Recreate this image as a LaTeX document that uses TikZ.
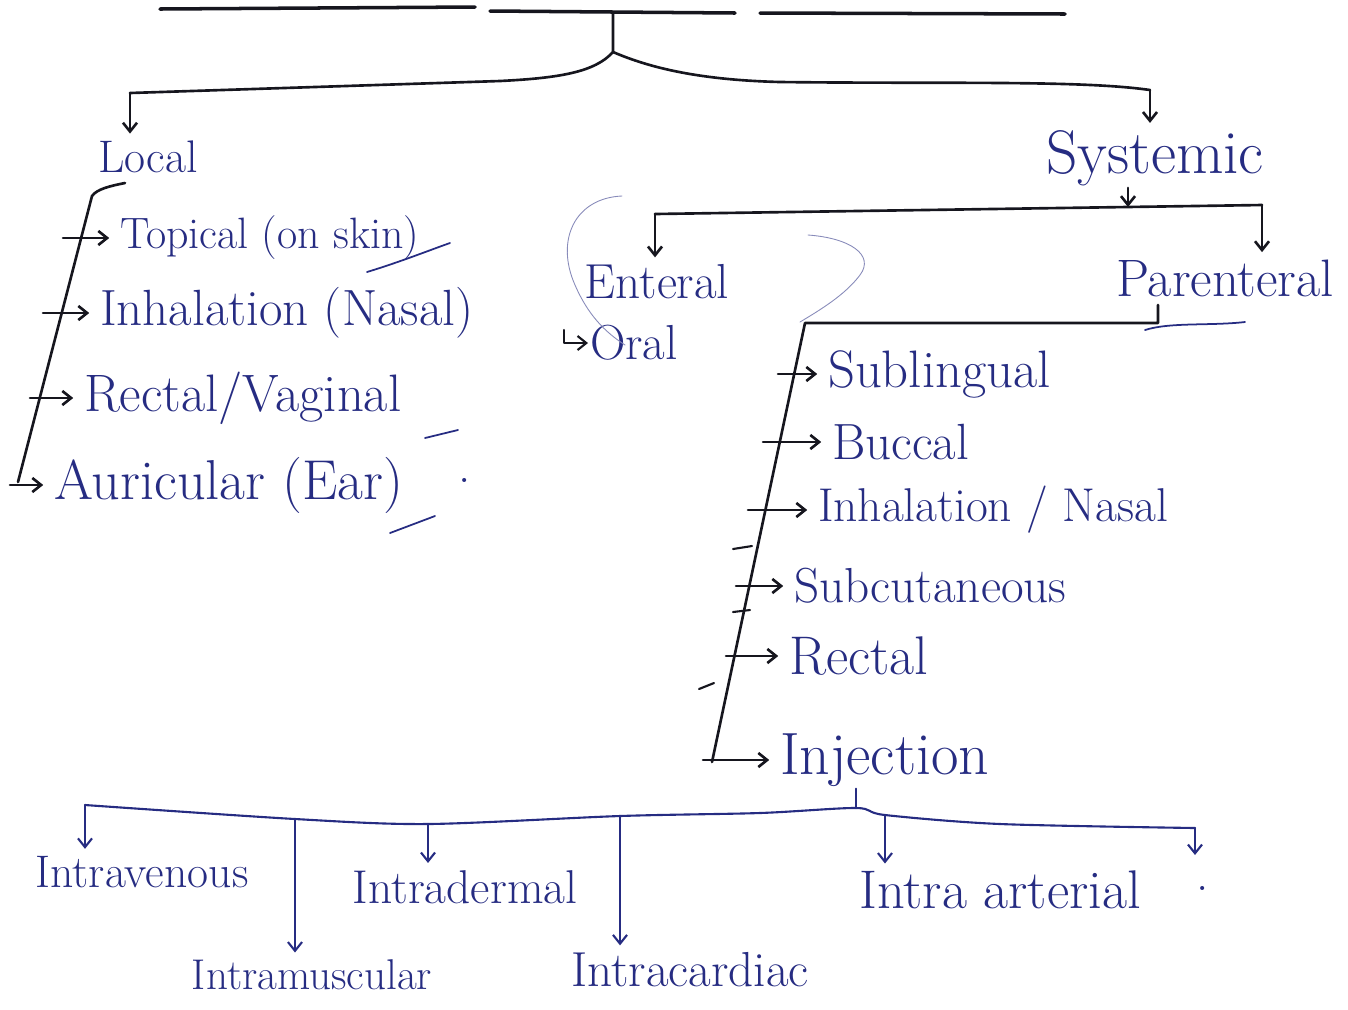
\documentclass[tikz,border=0pt]{standalone}
\usepackage{fontspec}
\usetikzlibrary{arrows.meta}
\definecolor{ink}{RGB}{38,44,130}
\definecolor{pen}{RGB}{22,22,30}
\begin{document}
\begin{tikzpicture}[x=0.02cm, y=-0.02cm, line join=round, line cap=round, >={Straight Barb[length=5pt,width=8pt]},
	sz/.style={font=\fontsize{#1}{#1}\selectfont},
	lbl/.style={text=ink, inner sep=1pt},
	blk/.style={draw=pen, line width=1.5pt},
	blu/.style={draw=ink, line width=1.2pt},
	faint/.style={draw=ink!55, line width=0.5pt},
	tip/.style={shorten >=3pt},
	item/.style={blk, <-, shorten <=5pt}]
	\useasboundingbox (0,0) rectangle (1348,1009);
	% title underlines (title itself is cut off)
	\draw[blk,line width=2pt] (160,9) -- (475,7);
	\draw[blk,line width=2pt] (490,11) -- (735,13);
	\draw[blk,line width=2pt] (760,13) -- (1065,14);
	% local / systemic
	\coordinate (top) at (613,13);
	\coordinate (split) at (613,52);
	\coordinate (lc) at (130,93);
	\coordinate (rc) at (1150,90);
	\node[lbl,sz=26pt] (local) at (148,157) {Local};
	\node[lbl,sz=35pt] (systemic) at (1155,158) {Systemic};
	\draw[blk] (top) -- (split) .. controls (595,72) and (560,78) .. (500,81) -- (lc);
	\draw[blk] (split) .. controls (650,68) and (700,80) .. (780,82) .. controls (950,84) and (1080,80) .. (rc);
	\draw[blk,->,tip] (lc) -- (lc |- local.north);
	\draw[blk,->,tip] (rc) -- (rc |- systemic.north);
	% local routes
	\coordinate (lt) at (92,196);
	\coordinate (lb) at (18,482);
	\draw[blk] (125,183) .. controls (110,186) and (97,189) .. (lt) -- (lb);
	\node[lbl,sz=25pt,anchor=west] (topical) at (118,238) {Topical (on skin)};
	\node[lbl,sz=29pt,anchor=west] (inhal) at (98,313) {Inhalation (Nasal)};
	\node[lbl,sz=30pt,anchor=west] (rectvag) at (82,398) {Rectal/Vaginal};
	\node[lbl,sz=32pt,anchor=west] (auric) at (52,485) {Auricular (Ear)};
	\node[lbl,sz=28pt] (dotA) at (465,480) {.};
	\draw[item] (topical.west) -- ++(-55,0);
	\draw[item] (inhal.west) -- ++(-55,0);
	\draw[item] (rectvag.west) -- ++(-52,0);
	\draw[item] (auric.west) -- ++(-42,0);
	\draw[blu,line width=1pt] (367,272) .. controls (400,262) and (430,250) .. (450,243);
	\draw[blu,line width=1pt] (425,438) -- (458,430);
	\draw[blu,line width=1pt] (390,533) -- (435,516);
	% enteral / parenteral
	\coordinate (el) at (655,214);
	\coordinate (er) at (1262,205);
	\coordinate (sj) at (1128,207);
	\node[lbl,sz=28pt] (enteral) at (657,282) {Enteral};
	\node[lbl,sz=30pt] (parenteral) at (1225,278) {Parenteral};
	\draw[blk] (el) -- (er);
	\draw[blk,->] (sj |- systemic.south) -- (sj);
	\draw[blk,->,tip] (el) -- (el |- enteral.north);
	\draw[blk,->,tip] (er) -- (er |- parenteral.north);
	\node[lbl,sz=28pt,anchor=west] (oral) at (588,343) {Oral};
	\draw[blk,line width=1.2pt,->] (564,330) |- (oral.west);
	\draw[faint] (622,196) .. controls (575,198) and (555,240) .. (575,285) .. controls (588,315) and (605,332) .. (625,345);
	\draw[faint] (808,235) .. controls (850,238) and (875,255) .. (860,275) .. controls (845,295) and (820,310) .. (800,322);
	% parenteral routes
	\coordinate (pj) at (1158,305);
	\coordinate (pc) at (1158,323);
	\coordinate (ptop) at (805,323);
	\coordinate (pbot) at (712,762);
	\draw[blk] (pj) -- (pc) -- (ptop) -- (pbot);
	\draw[blu,line width=1pt] (1145,330) .. controls (1170,322) and (1210,326) .. (1245,322);
	\node[lbl,sz=30pt,anchor=west] (subling) at (826,374) {Sublingual};
	\node[lbl,sz=29pt,anchor=west] (buccal) at (830,442) {Buccal};
	\node[lbl,sz=27pt,anchor=west] (inhalnas) at (816,510) {Inhalation / Nasal};
	\node[lbl,sz=28pt,anchor=west] (subcut) at (792,586) {Subcutaneous};
	\node[lbl,sz=31pt,anchor=west] (rectal) at (787,656) {Rectal};
	\node[lbl,sz=34pt,anchor=west] (inject) at (778,760) {Injection};
	\draw[item] (subling.west) -- ++(-48,0);
	\draw[item] (buccal.west) -- ++(-67,0);
	\draw[item] (inhalnas.west) -- ++(-68,0);
	\draw[item] (subcut.west) -- ++(-56,0);
	\draw[item] (rectal.west) -- ++(-61,0);
	\draw[item] (inject.west) -- ++(-75,0);
	\draw[blk,line width=1.2pt] (733,549) -- (752,546);
	\draw[blk,line width=1.2pt] (733,612) -- (750,610);
	\draw[blk,line width=1.2pt] (699,689) -- (714,683);
	% injection types
	\coordinate (b1) at (85,805);
	\coordinate (b2) at (295,819);
	\coordinate (b3) at (428,824);
	\coordinate (b4) at (620,816);
	\coordinate (ij) at (856,808);
	\coordinate (b5) at (885,815);
	\coordinate (b6) at (1195,828);
	\coordinate (e6) at (1195,855);
	\node[lbl,sz=26pt] (intraven) at (142,872) {Intravenous};
	\node[lbl,sz=24.5pt] (intramus) at (312,975) {Intramuscular};
	\node[lbl,sz=27pt] (intrader) at (465,887) {Intradermal};
	\node[lbl,sz=28pt] (intracard) at (690,970) {Intracardiac};
	\node[lbl,sz=31pt] (intraart) at (1000,890) {Intra arterial};
	\node[lbl,sz=28pt] (dotB) at (1203,888) {.};
	\draw[blu] plot[smooth] coordinates {(b1) (b2) (b3) (b4) (760,813) (ij) (b5) (1000,824) (b6)};
	\draw[blu] (ij |- inject.south) -- (ij);
	\draw[blu,->,tip] (b1) -- (b1 |- intraven.north);
	\draw[blu,->,tip] (b2) -- (b2 |- intramus.north);
	\draw[blu,->,tip] (b3) -- (b3 |- intrader.north);
	\draw[blu,->,tip] (b4) -- (b4 |- intracard.north);
	\draw[blu,->,tip] (b5) -- (b5 |- intraart.north);
	\draw[blu,->] (b6) -- (e6);
\end{tikzpicture}
\end{document}
